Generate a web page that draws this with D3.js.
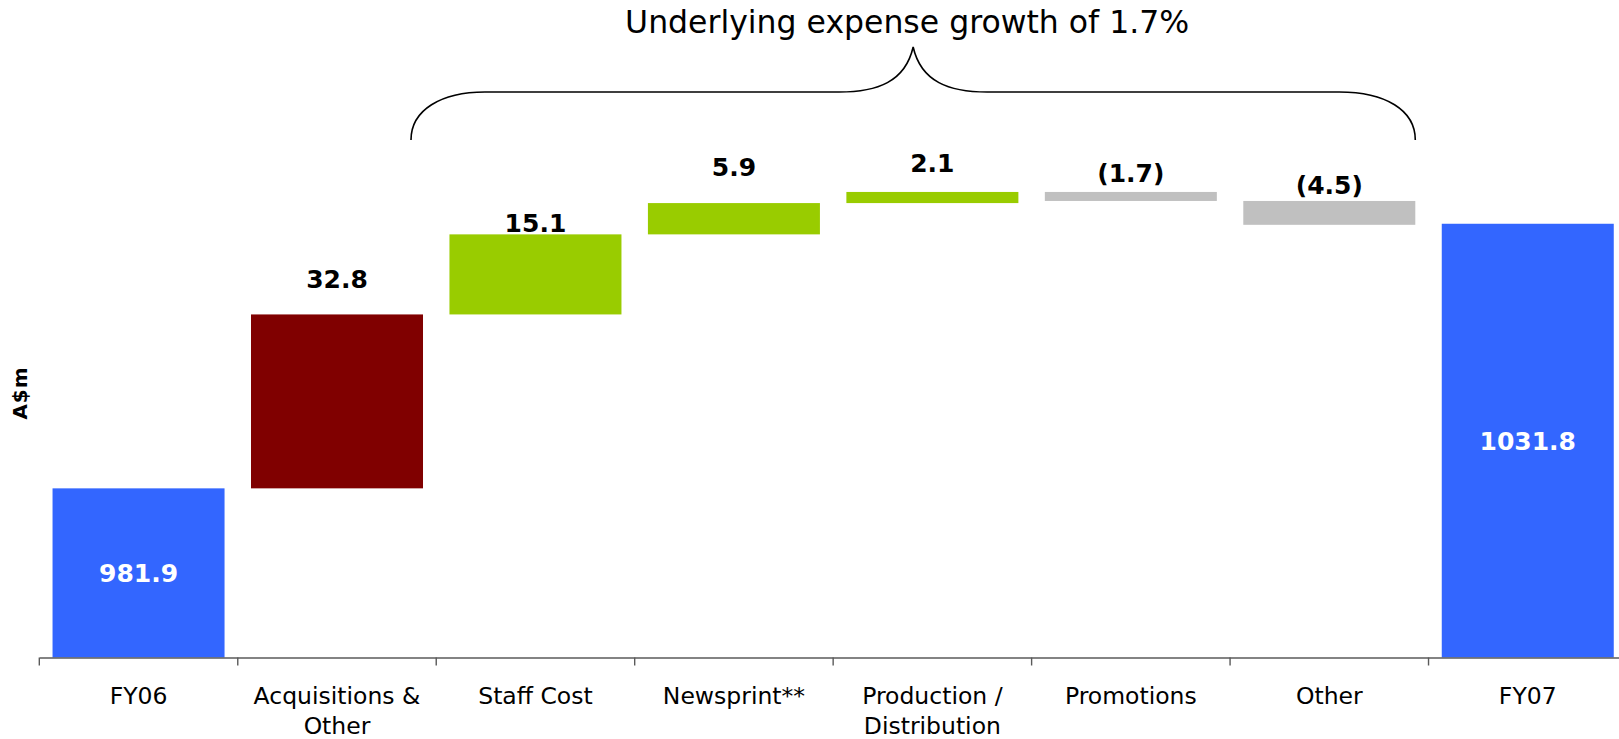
<!DOCTYPE html>
<html>
<head>
<meta charset="utf-8">
<script src="https://cdn.jsdelivr.net/npm/d3@7/dist/d3.min.js"></script>
<style>
  html, body { margin: 0; padding: 0; background: #ffffff; }
  svg { display: block; font-family: "DejaVu Sans", Verdana, sans-serif; }
</style>
</head>
<body>
<svg id="chart" width="1619" height="739"></svg>
<script>
// Expense bridge FY06 -> FY07 (A$m)
const categories = ["FY06", "Acquisitions & Other", "Staff Cost", "Newsprint**",
                    "Production / Distribution", "Promotions", "Other", "FY07"];
const tickLines = [["FY06"], ["Acquisitions &", "Other"], ["Staff Cost"], ["Newsprint**"],
                   ["Production /", "Distribution"], ["Promotions"], ["Other"], ["FY07"]];
const kinds = ["total", "acquisition", "increase", "increase", "increase", "decrease", "decrease", "total"];
const values = [981.9, 32.8, 15.1, 5.9, 2.1, -1.7, -4.5, 1031.8];
const valueLabels = ["981.9", "32.8", "15.1", "5.9", "2.1", "(1.7)", "(4.5)", "1031.8"];
const axisFloor = 950;
const axisCeil = 1074;
const bracketText = "Underlying expense growth of 1.7%";

// label gap above each floating bar (px)
const labelGap = [0, 26, 2, 27, 20, 10, 7, 0];

const FONT = '"DejaVu Sans", Verdana, sans-serif';

const colour = {
  total: "#3366FF",
  acquisition: "#800000",
  increase: "#99CC00",
  decrease: "#C0C0C0"
};

const svg = d3.select("#chart");

const x = d3.scaleBand()
  .domain(categories)
  .range([39.3, 1627])
  .paddingInner(0.1333)
  .paddingOuter(0.0667);

const y = d3.scaleLinear()
  .domain([axisFloor, axisCeil])
  .range([657.5, 0]);

// running totals for the floating bars
let run = 0;
const bars = categories.map((c, i) => {
  let lo, hi;
  if (kinds[i] === "total") {
    lo = axisFloor; hi = values[i]; run = values[i];
  } else {
    const start = run; run = run + values[i];
    lo = Math.min(start, run); hi = Math.max(start, run);
  }
  return { cat: c, kind: kinds[i], lo, hi, label: valueLabels[i], gap: labelGap[i] };
});

// bars
svg.append("g").selectAll("rect")
  .data(bars)
  .join("rect")
  .attr("x", d => x(d.cat))
  .attr("width", x.bandwidth())
  .attr("y", d => y(d.hi))
  .attr("height", d => y(d.lo) - y(d.hi))
  .attr("fill", d => colour[d.kind]);

// category axis: labels centred, tick marks on band boundaries
const axisG = svg.append("g")
  .attr("transform", `translate(0,${y(axisFloor)})`)
  .call(d3.axisBottom(x).tickSize(0).tickSizeOuter(0).tickFormat(""));
axisG.attr("font-family", FONT);
axisG.select(".domain").attr("stroke", "#5a5a5a").attr("stroke-width", 1.4);

const step = x.step();
const halfGap = step * x.paddingInner() / 2;
axisG.append("g").selectAll("line")
  .data(categories)
  .join("line")
  .attr("x1", d => x(d) - halfGap)
  .attr("x2", d => x(d) - halfGap)
  .attr("y1", 0)
  .attr("y2", 8)
  .attr("stroke", "#5a5a5a")
  .attr("stroke-width", 1.4);

const tickText = axisG.append("g").selectAll("text")
  .data(categories)
  .join("text")
  .attr("text-anchor", "middle")
  .attr("font-family", FONT)
  .attr("font-size", "23.5px")
  .attr("fill", "#000");
tickText.each(function (d, i) {
  const t = d3.select(this);
  tickLines[i].forEach((line, k) => {
    t.append("tspan")
      .attr("x", x(d) + x.bandwidth() / 2)
      .attr("y", 46 + k * 30)
      .text(line);
  });
});

// value labels
svg.append("g").selectAll("text")
  .data(bars)
  .join("text")
  .attr("text-anchor", "middle")
  .attr("font-family", FONT)
  .attr("font-weight", "bold")
  .attr("font-size", "25px")
  .attr("fill", d => d.kind === "total" ? "#ffffff" : "#000000")
  .attr("x", d => x(d.cat) + x.bandwidth() / 2)
  .attr("y", d => d.kind === "total"
      ? (y(d.hi) + y(d.lo)) / 2 + 9.5
      : y(d.hi) - d.gap)
  .text(d => d.label);

// y axis title
svg.append("text")
  .attr("transform", "translate(27,393) rotate(-90)")
  .attr("text-anchor", "middle")
  .attr("font-family", FONT)
  .attr("font-weight", "bold")
  .attr("font-size", "20px")
  .attr("letter-spacing", "1px")
  .text("A$m");

// curly bracket spanning the underlying expense items
const bxL = x("Acquisitions & Other") + x.bandwidth() / 2 + 74;
const bxR = x("Other") + x.bandwidth();
const bxM = (bxL + bxR) / 2;
const bTip = 140, bLine = 92, bPeak = 47;
const p = d3.path();
p.moveTo(bxL, bTip);
p.bezierCurveTo(bxL, bLine + 18, bxL + 30, bLine, bxL + 74, bLine);
p.lineTo(bxM - 74, bLine);
p.bezierCurveTo(bxM - 36, bLine, bxM - 8, bLine - 10, bxM, bPeak);
p.bezierCurveTo(bxM + 8, bLine - 10, bxM + 36, bLine, bxM + 74, bLine);
p.lineTo(bxR - 76, bLine);
p.bezierCurveTo(bxR - 30, bLine, bxR, bLine + 18, bxR, bTip);
svg.append("path")
  .attr("d", p.toString())
  .attr("fill", "none")
  .attr("stroke", "#000")
  .attr("stroke-width", 1.6);

svg.append("text")
  .attr("x", bxM - 6)
  .attr("y", 32.5)
  .attr("text-anchor", "middle")
  .attr("font-family", FONT)
  .attr("font-size", "31.5px")
  .attr("fill", "#000")
  .text(bracketText);
</script>
</body>
</html>
